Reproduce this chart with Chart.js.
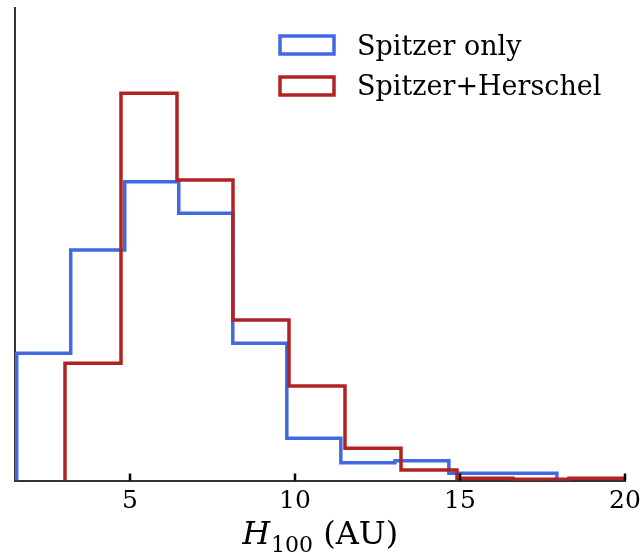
<!DOCTYPE html>
<html><head><meta charset="utf-8">
<script src="https://cdn.jsdelivr.net/npm/chart.js@4/dist/chart.umd.min.js"></script>
<style>html,body{margin:0;padding:0;background:#fff}#wrap{width:642px;height:557px}</style>
</head><body><div id="wrap"><canvas id="c" width="642" height="557"></canvas></div>
<script>
// ---- data ----
const seriesNames = ['Spitzer only', 'Spitzer+Herschel'];
const blueEdges = [1.567, 3.204, 4.841, 6.478, 8.115, 9.752, 11.389, 13.026, 14.663, 16.300, 17.937];
const blueDensity = [0.0673, 0.1220, 0.1581, 0.1414, 0.0726, 0.0223, 0.0094, 0.0105, 0.0038, 0.0038];
const redEdges = [3.03, 4.727, 6.424, 8.121, 9.818, 11.515, 13.212, 14.909, 16.606, 18.303, 20.0];
const redDensity = [0.0620, 0.2049, 0.1590, 0.0849, 0.0500, 0.0170, 0.0056, 0.0012, 0.0006, 0.0012];
const xTickValues = [5, 10, 15, 20];
const xLabelMain = 'H', xLabelSub = '100', xLabelUnit = ' (AU)';

const BLUE = '#4169E1', RED = '#B22222';
const SERIF = '"DejaVu Serif", "Liberation Serif", serif';

function stepOutline(edges, vals) {
  const pts = [{x: edges[0], y: 0}];
  vals.forEach((v, i) => pts.push({x: edges[i], y: v}));
  pts.push({x: edges[edges.length - 1], y: 0});
  return pts;
}

const extras = {
  id: 'extras',
  afterDatasetsDraw(chart) {
    const {ctx, scales: {x}, chartArea} = chart;
    ctx.save();
    ctx.strokeStyle = '#000';
    ctx.lineWidth = 2.5;
    x.ticks.forEach(t => {
      const px = x.getPixelForValue(t.value);
      ctx.beginPath();
      ctx.moveTo(px, chartArea.bottom);
      ctx.lineTo(px, chartArea.bottom - 7);
      ctx.stroke();
    });
    ctx.restore();
  },
  afterDraw(chart) {
    const {ctx, chartArea} = chart;
    ctx.save();
    // legend
    const items = [
      {label: seriesNames[0], color: BLUE, boxY: 36, base: 55},
      {label: seriesNames[1], color: RED, boxY: 77, base: 95}
    ];
    ctx.font = '27px ' + SERIF;
    ctx.textBaseline = 'alphabetic';
    ctx.textAlign = 'left';
    items.forEach(it => {
      ctx.strokeStyle = it.color;
      ctx.lineWidth = 3.5;
      ctx.lineJoin = 'miter';
      ctx.strokeRect(280, it.boxY, 54, 18);
      ctx.fillStyle = '#000';
      ctx.fillText(it.label, 357, it.base);
    });
    // x axis title with subscript
    const big = '32px ' + SERIF, ital = 'italic 32px ' + SERIF, small = '22px ' + SERIF;
    ctx.font = ital; const w1 = ctx.measureText(xLabelMain).width;
    ctx.font = small; const w2 = ctx.measureText(xLabelSub).width;
    ctx.font = big; const w3 = ctx.measureText(xLabelUnit).width;
    const cx = (chartArea.left + chartArea.right) / 2;
    let sx = cx - (w1 + w2 + w3) / 2;
    const base = 544;
    ctx.fillStyle = '#000';
    ctx.font = ital; ctx.fillText(xLabelMain, sx, base); sx += w1 + 1;
    ctx.font = small; ctx.fillText(xLabelSub, sx, base + 8); sx += w2;
    ctx.font = big; ctx.fillText(xLabelUnit, sx, base);
    ctx.restore();
  }
};

new Chart(document.getElementById('c'), {
  type: 'line',
  data: {
    datasets: [
      {label: seriesNames[0], data: stepOutline(blueEdges, blueDensity), borderColor: BLUE,
       borderWidth: 3.5, stepped: 'before', pointRadius: 0, fill: false, order: 1,
       borderJoinStyle: 'miter', borderCapStyle: 'butt'},
      {label: seriesNames[1], data: stepOutline(redEdges, redDensity), borderColor: RED,
       borderWidth: 3.5, stepped: 'before', pointRadius: 0, fill: false, order: 0,
       borderJoinStyle: 'miter', borderCapStyle: 'butt'}
    ]
  },
  options: {
    responsive: false, animation: false, devicePixelRatio: 1,
    layout: {padding: {left: 14.5, right: 17, top: 8, bottom: 0}},
    plugins: {legend: {display: false}, tooltip: {enabled: false}},
    scales: {
      x: {
        type: 'linear', min: 1.5, max: 20,
        afterBuildTicks: s => { s.ticks = xTickValues.map(v => ({value: v})); },
        grid: {display: false, drawTicks: false},
        border: {display: true, color: '#333', width: 2},
        ticks: {font: {family: SERIF, size: 25}, color: '#000', padding: 6, maxRotation: 0, autoSkip: false},
        afterFit: s => { s.height = 76.5; s.paddingLeft = 0; s.paddingRight = 0; }
      },
      y: {
        min: 0, max: 0.25,
        grid: {display: false, drawTicks: false},
        border: {display: true, color: '#333', width: 2},
        ticks: {display: false},
        afterFit: s => { s.width = 0; s.paddingTop = 0; s.paddingBottom = 0; }
      }
    }
  },
  plugins: [extras]
});
</script>
</body></html>
